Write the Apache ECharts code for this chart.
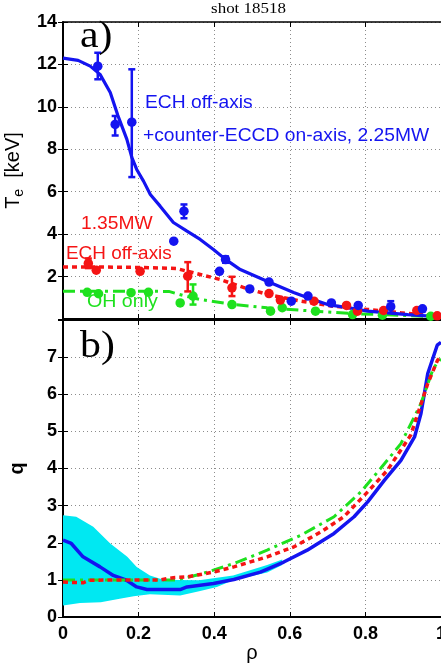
<!DOCTYPE html>
<html>
<head>
<meta charset="utf-8">
<title>shot 18518</title>
<script src="https://cdn.jsdelivr.net/npm/echarts@6/dist/echarts.min.js"></script>
<style>
  html, body { margin: 0; padding: 0; background: #fff; }
  #chart { width: 441px; height: 668px; }
</style>
</head>
<body>
<div id="chart"></div>
<script>
// ---- panel a) electron temperature profiles, [rho, Te keV] ----
const blueFitTe = [[0,12.30],[0.04,12.19],[0.072,11.92],[0.098,11.53],[0.125,10.68],[0.145,9.60],[0.169,8.47],[0.182,7.62],[0.195,7.05],[0.213,6.50],[0.231,5.87],[0.257,5.32],[0.292,4.55],[0.328,4.14],[0.363,3.75],[0.398,3.28],[0.430,2.81],[0.469,2.33],[0.540,1.78],[0.610,1.25],[0.646,1.01],[0.700,0.68],[0.753,0.54],[0.806,0.37],[0.858,0.29],[0.912,0.21],[1.0,0.10]];
const redFitTe = [[0,2.45],[0.1,2.45],[0.2,2.43],[0.3,2.38],[0.363,2.10],[0.416,1.86],[0.477,1.49],[0.54,1.16],[0.629,0.84],[0.716,0.60],[0.806,0.45],[0.894,0.29],[1.0,0.13]];
const greenFitTe = [[0,1.31],[0.15,1.31],[0.28,1.30],[0.32,1.10],[0.363,0.92],[0.451,0.68],[0.54,0.53],[0.663,0.37],[0.76,0.26],[0.894,0.17],[1.0,0.10]];

const blueTe = [[0.092,11.92],[0.138,9.17],[0.182,9.28],[0.293,3.67],[0.32,5.08],[0.414,2.25],[0.43,2.80],[0.494,1.42],[0.545,1.74],[0.604,0.84],[0.648,1.08],[0.71,0.76],[0.781,0.64],[0.867,0.58],[0.951,0.48]];
const blueTeErr = [[0.092,11.30,12.55],[0.138,8.65,9.57],[0.182,6.69,11.77],[0.32,4.75,5.40],[0.43,2.65,2.95],[0.867,0.29,0.84]];
const redTe = [[0.067,2.62],[0.088,2.30],[0.204,2.25],[0.33,2.02],[0.447,1.47],[0.545,1.20],[0.575,0.89],[0.664,0.84],[0.75,0.64],[0.779,0.37],[0.848,0.40],[0.936,0.40],[0.99,0.15]];
const redTeErr = [[0.067,2.40,2.85],[0.33,1.30,2.68],[0.447,1.08,1.99]];
const greenTe = [[0.064,1.26],[0.094,1.19],[0.18,1.24],[0.226,1.26],[0.31,0.76],[0.344,1.08],[0.447,0.68],[0.549,0.37],[0.58,0.53],[0.668,0.37],[0.766,0.21],[0.845,0.18],[0.973,0.13]];
const greenTeErr = [[0.344,0.68,1.63]];

// ---- panel b) safety factor profiles, [rho, q] ----
const blueQ = [[0,2.07],[0.022,1.98],[0.053,1.62],[0.098,1.35],[0.133,1.12],[0.168,0.99],[0.195,0.81],[0.222,0.74],[0.31,0.74],[0.328,0.81],[0.398,0.90],[0.452,1.01],[0.522,1.21],[0.584,1.48],[0.646,1.80],[0.717,2.25],[0.77,2.70],[0.806,3.10],[0.85,3.68],[0.894,4.22],[0.93,4.85],[0.947,5.48],[0.965,6.56],[0.99,7.32],[1.0,7.40]];
const redQ = [[0,0.94],[0.053,0.92],[0.07,0.99],[0.15,1.0],[0.257,1.0],[0.292,1.06],[0.328,1.08],[0.398,1.21],[0.452,1.35],[0.54,1.62],[0.611,1.89],[0.682,2.29],[0.743,2.70],[0.806,3.37],[0.858,3.95],[0.92,4.90],[0.965,6.29],[0.991,6.92],[1.0,7.0]];
const greenQ = [[0,1.0],[0.3,1.0],[0.363,1.15],[0.452,1.44],[0.54,1.80],[0.629,2.20],[0.717,2.70],[0.788,3.37],[0.84,4.0],[0.894,4.67],[0.947,5.75],[0.978,6.65],[0.991,6.87],[1.0,6.95]];
const qBandUpper = [[0,2.74],[0.035,2.70],[0.08,2.43],[0.125,1.98],[0.17,1.62],[0.195,1.35],[0.23,1.12],[0.257,1.03],[0.3,1.0],[0.36,0.99],[0.45,1.12],[0.54,1.40],[0.58,1.55]];
const qBandLower = [[0,0.31],[0.045,0.38],[0.1,0.40],[0.15,0.49],[0.187,0.56],[0.23,0.61],[0.31,0.58],[0.363,0.70],[0.407,0.81],[0.45,0.99],[0.54,1.20],[0.58,1.40]];

const BLUE = '#1414f0', RED = '#f51414', GREEN = '#1ee11e', CYAN = '#00e8f2';
const SANS = 'Liberation Sans, Arial, sans-serif';
const SERIF = 'Liberation Serif, Times New Roman, serif';

const chart = echarts.init(document.getElementById('chart'), null, { renderer: 'canvas' });

function errorBars(color) {
  return function (params, api) {
    const x = api.value(0), lo = api.value(1), hi = api.value(2);
    const a = api.coord([x, lo]), b = api.coord([x, hi]);
    const w = 3.5, st = { stroke: color, lineWidth: 2.5 };
    return {
      type: 'group',
      children: [
        { type: 'line', shape: { x1: a[0], y1: a[1], x2: b[0], y2: b[1] }, style: st },
        { type: 'line', shape: { x1: a[0] - w, y1: a[1], x2: a[0] + w, y2: a[1] }, style: st },
        { type: 'line', shape: { x1: b[0] - w, y1: b[1], x2: b[0] + w, y2: b[1] }, style: st }
      ]
    };
  };
}

function bandPolygon(params, api) {
  if (params.dataIndex !== 0) return null;
  const pts = qBandUpper.concat(qBandLower.slice().reverse()).map(p => api.coord(p));
  return { type: 'polygon', shape: { points: pts }, style: { fill: CYAN } };
}

const gridLine = { show: true, lineStyle: { type: [1, 3], color: '#8c8c8c', width: 1 } };
const tickIn = { show: true, inside: true, length: 5, lineStyle: { color: '#000', width: 1 } };
const label = { color: '#000', fontFamily: SANS, fontWeight: 'bold', fontSize: 18 };

function xMain(grid, showLabels) {
  return {
    type: 'value', gridIndex: grid, min: 0, max: 1, interval: 0.2, position: 'bottom',
    axisLine: { show: true, onZero: false, lineStyle: { color: '#000', width: 2 } },
    axisTick: tickIn,
    axisLabel: Object.assign({ show: showLabels, margin: 8, formatter: v => String(+v.toFixed(1)) }, label),
    splitLine: gridLine,
    name: showLabels ? 'ρ' : '', nameLocation: 'middle', nameGap: 26,
    nameTextStyle: { color: '#000', fontFamily: SANS, fontSize: 20 }
  };
}
function xTop(grid) {
  return {
    type: 'value', gridIndex: grid, min: 0, max: 1, interval: 0.2, position: 'top',
    axisLine: { show: true, onZero: false, lineStyle: { color: '#000', width: grid === 1 ? 2 : 1.5 } },
    axisTick: tickIn, axisLabel: { show: false }, splitLine: { show: false }
  };
}

chart.setOption({
  animation: false,
  backgroundColor: '#fff',
  grid: [
    { left: 63, top: 22, width: 378, height: 297, outerBoundsMode: 'none', containLabel: false },
    { left: 63, top: 320, width: 378, height: 297, outerBoundsMode: 'none', containLabel: false }
  ],
  xAxis: [xMain(0, false), xMain(1, true), xTop(0), xTop(1)],
  yAxis: [
    {
      type: 'value', gridIndex: 0, min: 0, max: 14, interval: 2,
      axisLine: { show: true, onZero: false, lineStyle: { color: '#000', width: 2 } },
      axisTick: tickIn,
      axisLabel: Object.assign({ margin: 6, formatter: v => (v === 0 ? '' : String(v)) }, label),
      splitLine: gridLine,
      name: '{t|T}{s|e}{t|  [keV]}', nameLocation: 'middle', nameGap: 36,
      nameTextStyle: {
        color: '#000',
        rich: {
          t: { fontFamily: SANS, fontSize: 20, color: '#000', lineHeight: 26, verticalAlign: 'middle' },
          s: { fontFamily: SANS, fontSize: 14, color: '#000', lineHeight: 26, verticalAlign: 'bottom', padding: [9, 0, 0, 0] }
        }
      }
    },
    {
      type: 'value', gridIndex: 1, min: 0, max: 8, interval: 1,
      axisLine: { show: true, onZero: false, lineStyle: { color: '#000', width: 2 } },
      axisTick: tickIn,
      axisLabel: Object.assign({ margin: 6, formatter: v => (v === 8 ? '' : String(v)) }, label),
      splitLine: gridLine,
      name: 'q', nameLocation: 'middle', nameGap: 36,
      nameTextStyle: { color: '#000', fontFamily: SANS, fontWeight: 'bold', fontSize: 20 }
    },
    {
      type: 'value', gridIndex: 0, min: 0, max: 14, interval: 2, position: 'right',
      axisLine: { show: false }, axisTick: tickIn, axisLabel: { show: false }, splitLine: { show: false }
    },
    {
      type: 'value', gridIndex: 1, min: 0, max: 8, interval: 1, position: 'right',
      axisLine: { show: false }, axisTick: tickIn, axisLabel: { show: false }, splitLine: { show: false }
    }
  ],
  graphic: [
    { type: 'text', x: 248.5, y: 9, scaleX: 1.13, z: 10,
      style: { text: 'shot 18518', fill: '#000', font: '15px ' + SERIF, align: 'center', verticalAlign: 'middle' } },
    { type: 'text', x: 80, y: 37, scaleX: 1.1, z: 10,
      style: { text: 'a)', fill: '#000', font: '38px ' + SERIF, align: 'left', verticalAlign: 'middle' } },
    { type: 'text', x: 80, y: 347, scaleX: 1.1, z: 10,
      style: { text: 'b)', fill: '#000', font: '38px ' + SERIF, align: 'left', verticalAlign: 'middle' } },
    { type: 'text', x: 145, y: 103, scaleX: 1.1, z: 10,
      style: { text: 'ECH off-axis', fill: BLUE, font: '17.5px ' + SANS, align: 'left', verticalAlign: 'middle' } },
    { type: 'text', x: 143, y: 136, scaleX: 1.1, z: 10,
      style: { text: '+counter-ECCD on-axis, 2.25MW', fill: BLUE, font: '17.5px ' + SANS, align: 'left', verticalAlign: 'middle' } },
    { type: 'text', x: 81, y: 224.5, scaleX: 1.1, z: 10,
      style: { text: '1.35MW', fill: RED, font: '17.5px ' + SANS, align: 'left', verticalAlign: 'middle' } },
    { type: 'text', x: 66, y: 254.5, scaleX: 1.08, z: 10,
      style: { text: 'ECH off-axis', fill: RED, font: '17.5px ' + SANS, align: 'left', verticalAlign: 'middle' } },
    { type: 'text', x: 87, y: 302, scaleX: 1.12, z: 10,
      style: { text: 'OH only', fill: GREEN, font: '17.5px ' + SANS, align: 'left', verticalAlign: 'middle' } }
  ],
  series: [
    // panel a) fitted profiles
    { type: 'line', xAxisIndex: 0, yAxisIndex: 0, data: greenFitTe, showSymbol: false, symbol: 'none', z: 2,
      lineStyle: { color: GREEN, width: 3, type: [12, 5, 3, 5], cap: 'butt' } },
    { type: 'line', xAxisIndex: 0, yAxisIndex: 0, data: redFitTe, showSymbol: false, symbol: 'none', z: 2,
      lineStyle: { color: RED, width: 3.5, type: [5, 4], cap: 'butt' } },
    { type: 'line', xAxisIndex: 0, yAxisIndex: 0, data: blueFitTe, showSymbol: false, symbol: 'none', z: 3,
      lineStyle: { color: BLUE, width: 3.2 } },
    // panel a) measurements
    { type: 'scatter', xAxisIndex: 0, yAxisIndex: 0, data: greenTe, symbol: 'circle', symbolSize: 9.5, z: 4,
      itemStyle: { color: GREEN, opacity: 1 } },
    { type: 'custom', xAxisIndex: 0, yAxisIndex: 0, data: greenTeErr, renderItem: errorBars(GREEN), z: 4 },
    { type: 'scatter', xAxisIndex: 0, yAxisIndex: 0, data: redTe, symbol: 'circle', symbolSize: 9.5, z: 5,
      itemStyle: { color: RED, opacity: 1 } },
    { type: 'custom', xAxisIndex: 0, yAxisIndex: 0, data: redTeErr, renderItem: errorBars(RED), z: 5 },
    { type: 'scatter', xAxisIndex: 0, yAxisIndex: 0, data: blueTe, symbol: 'circle', symbolSize: 9.5, z: 6,
      itemStyle: { color: BLUE, opacity: 1 } },
    { type: 'custom', xAxisIndex: 0, yAxisIndex: 0, data: blueTeErr, renderItem: errorBars(BLUE), z: 6 },
    // panel b) q profiles
    { type: 'custom', xAxisIndex: 1, yAxisIndex: 1, data: [[0, 0]], renderItem: bandPolygon, z: 1 },
    { type: 'line', xAxisIndex: 1, yAxisIndex: 1, data: blueQ, showSymbol: false, symbol: 'none', z: 2,
      lineStyle: { color: BLUE, width: 3.5 } },
    { type: 'line', xAxisIndex: 1, yAxisIndex: 1, data: greenQ, showSymbol: false, symbol: 'none', z: 3,
      lineStyle: { color: GREEN, width: 3, type: [12, 5, 3, 5], cap: 'butt' } },
    { type: 'line', xAxisIndex: 1, yAxisIndex: 1, data: redQ, showSymbol: false, symbol: 'none', z: 4,
      lineStyle: { color: RED, width: 3.5, type: [5, 4], cap: 'butt' } }
  ]
});
</script>
</body>
</html>
